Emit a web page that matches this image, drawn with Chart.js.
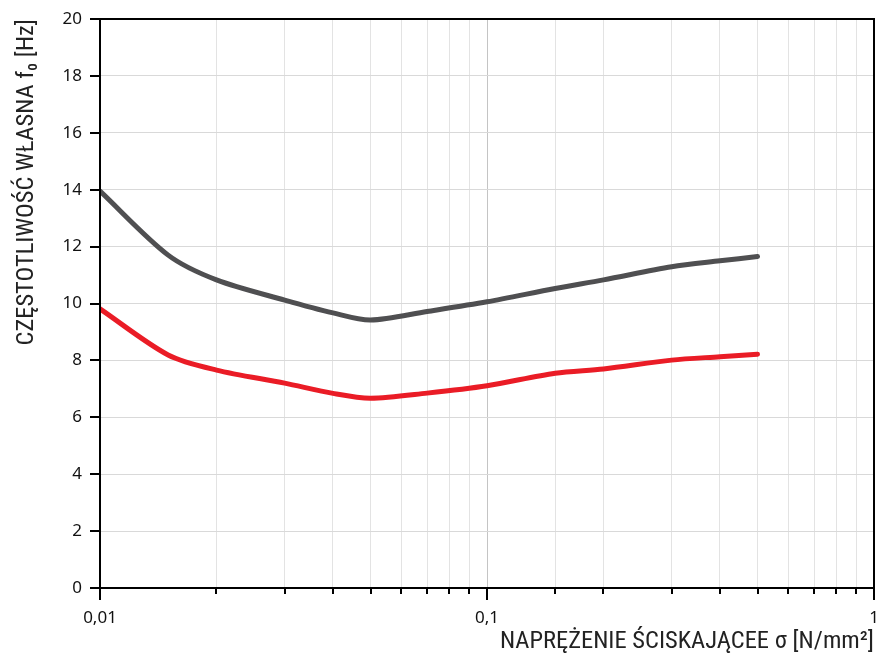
<!DOCTYPE html>
<html>
<head>
<meta charset="utf-8">
<script src="https://cdn.jsdelivr.net/npm/chart.js@4/dist/chart.umd.min.js"></script>
<style>
html,body{margin:0;padding:0;background:#fff;}
#wrap{width:880px;height:657px;position:relative;}
</style>
</head>
<body>
<div id="wrap"><canvas id="c" width="880" height="657"></canvas></div>
<script>
const stress = [0.01, 0.015, 0.02, 0.03, 0.04, 0.05, 0.07, 0.1, 0.15, 0.2, 0.3, 0.4, 0.5];
const freqGray = [13.95, 11.7, 10.83, 10.12, 9.67, 9.42, 9.72, 10.06, 10.53, 10.83, 11.29, 11.5, 11.65];
const freqRed = [9.81, 8.19, 7.66, 7.2, 6.84, 6.67, 6.85, 7.11, 7.55, 7.7, 8.01, 8.13, 8.22];
const xMajorValues = [0.01, 0.1, 1];
const xTickLabels = ['0,01', '0,1', '1'];
const xTitle = 'NAPRĘŻENIE ŚCISKAJĄCEE σ [N/mm²]';
const yTitle = 'CZĘSTOTLIWOŚĆ WŁASNA f₀ [Hz]';

function majorIndex(v){
  for (let i=0;i<xMajorValues.length;i++){
    if (Math.abs(Math.log10(v) - Math.log10(xMajorValues[i])) < 1e-6) return i;
  }
  return -1;
}

const frameTicks = {
  id: 'frameTicks',
  afterDraw(chart){
    const ctx = chart.ctx, ca = chart.chartArea;
    const xs = chart.scales.x, ys = chart.scales.y;
    ctx.save();
    ctx.strokeStyle = '#000';
    ctx.lineWidth = 2;
    ctx.strokeRect(ca.left, ca.top, ca.right - ca.left, ca.bottom - ca.top);
    ctx.beginPath();
    ys.ticks.forEach(t => {
      const y = Math.round(ys.getPixelForValue(t.value));
      ctx.moveTo(ca.left - 10, y);
      ctx.lineTo(ca.left, y);
    });
    xs.ticks.forEach(t => {
      const x = Math.round(xs.getPixelForValue(t.value));
      const len = majorIndex(t.value) >= 0 ? 12 : 6;
      ctx.moveTo(x, ca.bottom);
      ctx.lineTo(x, ca.bottom + len);
    });
    ctx.stroke();
    ctx.restore();
  }
};

const titleFont = '"Roboto Condensed", "Open Sans Condensed", "Noto Sans Condensed", "Liberation Sans Narrow", "Arial Narrow", "Open Sans", sans-serif';
const tickFont = '"Noto Sans", "Open Sans", sans-serif';

new Chart(document.getElementById('c'), {
  type: 'line',
  data: {
    datasets: [
      {
        data: stress.map((s,i)=>({x:s, y:freqGray[i]})),
        borderColor: '#4f4f51',
        borderWidth: 5,
        pointRadius: 0,
        tension: 0.3,
        borderCapStyle: 'round',
        borderJoinStyle: 'round'
      },
      {
        data: stress.map((s,i)=>({x:s, y:freqRed[i]})),
        borderColor: '#ea1c26',
        borderWidth: 5,
        pointRadius: 0,
        tension: 0.3,
        borderCapStyle: 'round',
        borderJoinStyle: 'round'
      }
    ]
  },
  options: {
    responsive: false,
    animation: false,
    events: [],
    layout: { padding: { top: 19, right: 6, left: 0, bottom: 0 } },
    plugins: { legend: { display: false }, tooltip: { enabled: false } },
    scales: {
      x: {
        type: 'logarithmic',
        min: 0.01,
        max: 1,
        afterFit(s){ s.height = 69; s.paddingLeft = 0; s.paddingRight = 0; },
        border: { display: false },
        grid: {
          drawTicks: false,
          lineWidth: 1,
          color: c => (c.tick && majorIndex(c.tick.value) >= 0) ? '#c4c4c4' : '#e3e3e3'
        },
        ticks: {
          autoSkip: false,
          maxRotation: 0,
          padding: 20,
          color: '#111',
          font: { family: tickFont, size: 17 },
          callback: v => { const i = majorIndex(v); return i >= 0 ? xTickLabels[i] : ''; }
        },
        title: {
          display: true,
          text: xTitle,
          align: 'end',
          color: '#222',
          padding: { top: 0, bottom: 0 },
          font: { family: titleFont, size: 24.5 }
        }
      },
      y: {
        min: 0,
        max: 20,
        afterFit(s){ s.width = 100; s.paddingTop = 0; s.paddingBottom = 0; },
        border: { display: false },
        grid: { drawTicks: false, color: '#d9d9d9', lineWidth: 1 },
        ticks: {
          stepSize: 2,
          padding: 18,
          color: '#111',
          font: { family: tickFont, size: 17 }
        },
        title: {
          display: true,
          text: yTitle,
          align: 'end',
          color: '#222',
          padding: { top: 12, bottom: 0 },
          font: { family: titleFont, size: 24.5 }
        }
      }
    }
  },
  plugins: [frameTicks]
});
</script>
</body>
</html>
